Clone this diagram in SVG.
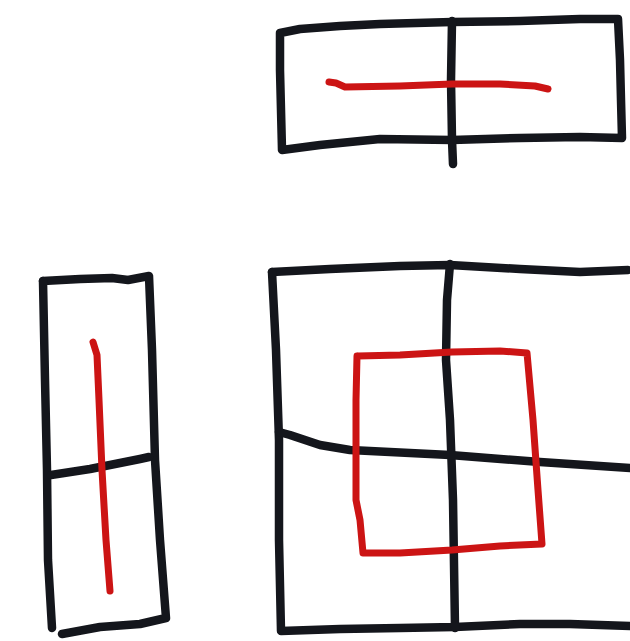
<svg xmlns="http://www.w3.org/2000/svg" width="630" height="641" viewBox="0 0 630 641">
<style>
.k{fill:none;stroke:#14161c;stroke-width:8.5;stroke-linecap:round;stroke-linejoin:round}
.r{fill:none;stroke:#cc1414;stroke-width:7;stroke-linecap:round;stroke-linejoin:round}
</style>
<rect width="630" height="641" fill="#fff"/>
<g id="top">
<path class="k" d="M280,33 L300,29 L340,26 L380,24 L452,22 L520,21 L580,19 L618,19 L620,60 L621,100 L622,138 L580,137 L520,138 L452,140 L380,139 L320,145 L282,150 L281,110 L280,70 Z"/>
<path class="k" d="M452,21 L451,80 L452,140 L453,164"/>
<path class="r" d="M329,82 L336,83 L345,87 L400,86 L452,84 L500,84 L535,86 L548,89"/>
</g>
<g id="left">
<path class="k" d="M43,281 L80,279 L112,278 L128,280 L149,276 L152,350 L155,460 L160,540 L166,618 L140,624 L100,627 L62,634"/>
<path class="k" d="M43,281 L45,380 L47,470 L48,560 L52,628"/>
<path class="k" d="M51,475 L90,469 L120,463 L140,459 L149,457"/>
<path class="r" d="M93,342 L97,355 L99,400 L102,470 L106,540 L110,591"/>
</g>
<g id="big">
<path class="k" d="M272,272 L330,269 L400,266 L450,265 L520,269 L580,272 L628,270"/>
<path class="k" d="M272,272 L276,350 L279,440 L279,540 L281,631 L340,629 L400,628 L455,627 L520,624 L570,624 L630,626"/>
<path class="k" d="M450,264 L447,300 L446,360 L450,420 L453,500 L455,628"/>
<path class="k" d="M279,432 L290,435 L320,445 L350,450 L450,455 L540,462 L630,468"/>
<path class="r" d="M358,356 L400,355 L452,352 L500,351 L527,353 L533,420 L538,490 L542,544 L500,546 L452,550 L400,553 L363,553 L360,520 L356,500 L356,450 L356,400 L357,356"/>
</g>
</svg>
